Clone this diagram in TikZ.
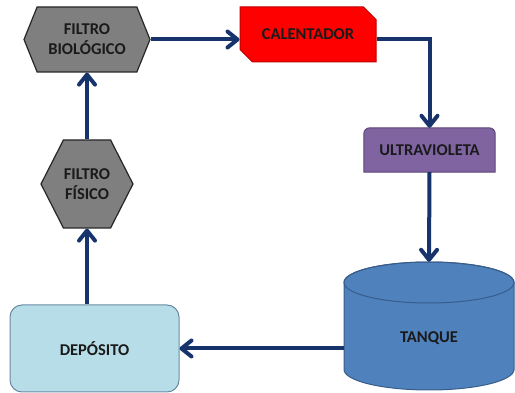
\documentclass[tikz,border=0pt]{standalone}
\usepackage{fontspec}
\setmainfont{Carlito}
\usetikzlibrary{shapes.symbols,shapes.misc,arrows.meta}

\definecolor{flow}{HTML}{17336B}
\definecolor{txt}{HTML}{1A1A1A}
\definecolor{hexfill}{HTML}{7F7F7F}
\definecolor{hexline}{HTML}{262626}
\definecolor{heatfill}{HTML}{FF0000}
\definecolor{heatline}{HTML}{C00000}
\definecolor{uvfill}{HTML}{8064A2}
\definecolor{uvline}{HTML}{5C4776}
\definecolor{tankfill}{HTML}{4F81BD}
\definecolor{tankline}{HTML}{385D8A}
\definecolor{depfill}{HTML}{B7DEE8}
\definecolor{depline}{HTML}{6A8AA3}

\tikzset{
  label text/.style={font=\fontsize{16.5}{20}\selectfont\bfseries, text=txt, align=center, inner sep=0pt},
  hexstage/.style={label text, signal, signal to=west and east, draw=hexline, fill=hexfill, line width=1.2pt},
  heater/.style={label text, chamfered rectangle, chamfered rectangle corners={north east, south west},
    chamfered rectangle xsep=7pt, chamfered rectangle ysep=7pt, draw=heatline, fill=heatfill, line width=1pt},
  frame/.style={label text, rectangle},
  flowline/.style={draw=flow, line width=4pt, -{Straight Barb[round,length=10pt,width=16pt]}},
}

\begin{document}
\begin{tikzpicture}[x=1pt,y=-1pt]
\useasboundingbox (0,0) rectangle (515,393);

% filters
\node[hexstage, minimum width=126pt, minimum height=65pt, signal pointer angle=136] (bio) at (87,39.5) {FILTRO\\BIOLÓGICO};
\node[hexstage, minimum width=92pt, minimum height=88pt, signal pointer angle=126] (phys) at (87,184) {FILTRO\\FÍSICO};

% heater
\node[heater, minimum width=136pt, minimum height=55pt] (cal) at (308,34.5) {CALENTADOR};

% UV stage: rounded top corners only
\node[frame, minimum width=131pt, minimum height=44pt] (uv) at (429.5,150) {};
\fill[uvfill, draw=uvline, line width=1pt] (uv.south west) [rounded corners=6pt] -- (uv.north west) -- (uv.north east) [sharp corners] -- (uv.south east) -- cycle;
\node[label text] at (uv.center) {ULTRAVIOLETA};

% tank (cylinder)
\node[frame, minimum width=170pt, minimum height=128pt] (tank) at (429,326) {};
\filldraw[fill=tankfill, draw=tankline, line width=1pt]
  (344,282.5) -- (344,369.5) arc[start angle=180, end angle=0, x radius=85, y radius=20.5]
  -- (514,282.5) arc[start angle=0, end angle=-180, x radius=85, y radius=20.5] -- cycle;
\draw[tankline, line width=1pt] (429,282.5) ellipse[x radius=85pt, y radius=20.5pt];
\node[label text] (tanktext) at (429,338) {TANQUE};

% reservoir
\node[label text, rectangle, rounded corners=12pt, draw=depline, fill=depfill, line width=1pt,
  minimum width=169pt, minimum height=87pt] (dep) at (94.5,348.5) {DEPÓSITO};

% flow
\draw[flowline] (phys.south |- dep.north) -- (phys.south);
\draw[flowline] (phys.north) -- (bio.south);
\draw[flowline] (bio.east) -- (bio.east -| cal.west);
\draw[flowline] (cal.east |- bio.east) -| (uv.north);
\draw[flowline] (uv.south) -- (tank.north);
\draw[flowline] (dep.east -| tank.west) -- (dep.east);
\end{tikzpicture}
\end{document}
